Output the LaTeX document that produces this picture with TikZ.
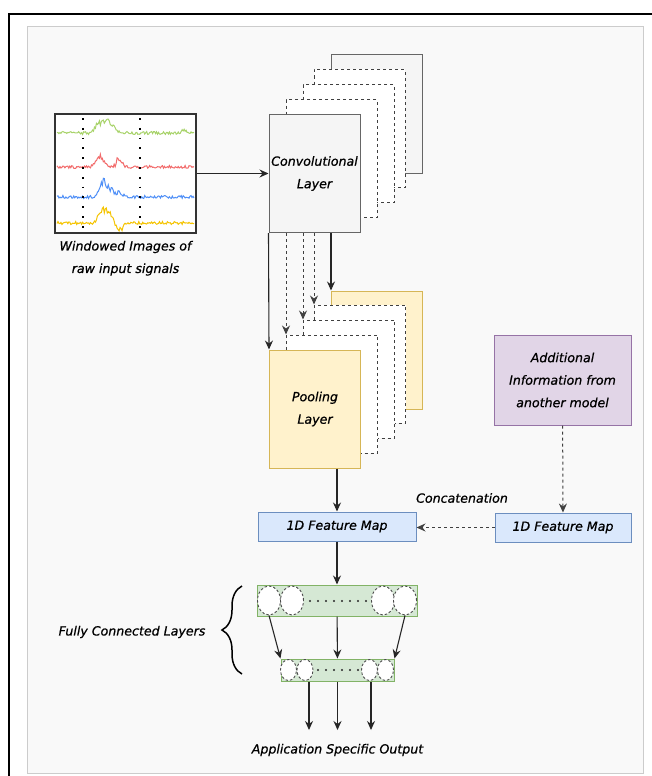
\documentclass[tikz,border=0pt]{standalone}
\usepackage{fontspec}
\setmainfont{DejaVu Sans}
\newfontfamily\diafont{DejaVu Sans}[ItalicFeatures={FakeBold=0.7}]
\usetikzlibrary{positioning,arrows.meta,calc,shapes.geometric,decorations.pathreplacing}
\definecolor{panelfill}{HTML}{F9F9F9}
\definecolor{panelline}{HTML}{CCCCCC}
\definecolor{convfill}{HTML}{F5F5F5}
\definecolor{convline}{HTML}{666666}
\definecolor{poolfill}{HTML}{FFF2CC}
\definecolor{poolline}{HTML}{D6B656}
\definecolor{fmfill}{HTML}{DAE8FC}
\definecolor{fmline}{HTML}{6C8EBF}
\definecolor{infofill}{HTML}{E1D5E7}
\definecolor{infoline}{HTML}{9673A6}
\definecolor{fcfill}{HTML}{D5E8D4}
\definecolor{fcline}{HTML}{82B366}
\definecolor{sgreen}{HTML}{A8D36A}
\definecolor{sred}{HTML}{F26B6B}
\definecolor{sblue}{HTML}{4F8FF7}
\definecolor{syellow}{HTML}{F5C400}
\tikzset{
  txt/.style={font=\diafont\fontsize{12.6}{22.5}\selectfont\itshape,align=center,inner sep=1pt},
  sigbox/.style={rectangle,draw=black!80,fill=white,line width=1.4pt,minimum width=141pt,minimum height=119pt,inner sep=0pt},
  lyr/.style={rectangle,line width=1pt,minimum width=91pt,minimum height=118pt,inner sep=0pt,
    txt},
  conv/.style={lyr,draw=convline,fill=convfill},
  pool/.style={lyr,draw=poolline,fill=poolfill},
  ghost/.style={lyr,draw=black!75,fill=white,dash pattern=on 3pt off 3pt},
  fmap/.style={rectangle,draw=fmline,fill=fmfill,line width=1pt,minimum width=158pt,minimum height=29pt,inner sep=0pt,txt},
  info/.style={rectangle,draw=infoline,fill=infofill,line width=1pt,minimum width=137pt,minimum height=90pt,inner sep=0pt,txt},
  fcbar/.style={rectangle,draw=fcline,fill=fcfill,line width=1pt,inner sep=0pt},
  neuron/.style={ellipse,draw=black!70,fill=white,dash pattern=on 2.5pt off 2pt,line width=0.9pt,inner sep=0pt},
  flow/.style={-{Stealth[length=9pt,width=8pt,inset=3pt]},line width=1.1pt,black!85},
  dflow/.style={flow,line width=1pt,black!75,dash pattern=on 3pt off 3pt},
  brc/.style={decorate,decoration={brace,amplitude=20pt},line width=1.5pt},
}

\begin{document}
\begin{tikzpicture}[x=1pt,y=-1pt]
  \useasboundingbox (0,0) rectangle (652,776);
  % frame and panel
  \fill[white] (0,0) rectangle (652,776);
  \draw[panelline,fill=panelfill,line width=1pt] (27,27) rectangle (643,773);
  \draw[line width=1.6pt] (652,14) -- (9,14) -- (9,776);
  % input signals
  \node[sigbox] (sig) at (125.5,173.5) {};
  \pgfmathsetseed{11}
  \draw[sgreen,line width=1pt] plot[domain=57:194,samples=140]
    (\x,{133-1.5*rand-(11+3*rand)*exp(-((\x-105)/11)^4)-3*exp(-((\x-184)/3)^2)});
  \draw[sred,line width=1pt] plot[domain=57:194,samples=140]
    (\x,{167-1.5*rand-(10+3*rand)*exp(-((\x-100)/5)^2)-(7+3*rand)*exp(-((\x-119)/4)^2)});
  \draw[sblue,line width=1pt] plot[domain=57:194,samples=140]
    (\x,{197-1.5*rand-(13+3*rand)*exp(-((\x-103)/5)^2)-(6+3*rand)*exp(-((\x-113)/9)^2)});
  \draw[syellow,line width=1pt] plot[domain=57:194,samples=140]
    (\x,{223-1.5*rand-(13+3*rand)*exp(-((\x-105)/8)^4)+(7+2*rand)*exp(-((\x-120)/4)^2)});
  \foreach \xd in {83,140}
    \draw[black,line width=2pt,dash pattern=on 1.8pt off 8pt] (\xd,118) -- (\xd,232);
  \node[txt,below=6pt of sig] (sigtxt) {Windowed Images of\\raw input signals};
  % convolutional stack
  \node[conv] (cbk) at (377,114) {};
  \foreach \i/\dx/\dy in {3/45/-45,2/34/-30,1/17/-15}
    \node[ghost] (cl\i) at (314.5+\dx,173.5+\dy) {};
  \node[conv] (conv) at (314.5,173.5) {Convolutional\\Layer};
  \draw[flow] (sig) -- (conv);
  % pooling stack
  \node[pool] (pbk) at (377,350) {};
  \foreach \i/\dx/\dy in {3/45/-45,2/34/-30,1/17/-15}
    \node[ghost] (pl\i) at (315+\dx,409+\dy) {};
  \node[pool] (pool) at (315,409) {Pooling\\Layer};
  \draw[flow] (conv.south west) -- (pool.north west);
  \foreach \i in {1,2,3}
    \draw[dflow] (conv.south -| pl\i.north west) -- (pl\i.north west);
  \draw[flow] (conv.south -| pbk.north west) -- (pbk.north west);
  % feature maps
  \node[fmap] (fm1) at (337,526.5) {1D Feature Map};
  \node[info] (info) at (562.5,380) {Additional\\Information from\\another model};
  \node[fmap,minimum width=136pt] (fm2) at (563,527.5) {1D Feature Map};
  \node[txt] (concat) at (462,498) {Concatenation};
  \draw[flow] (pool.south -| fm1.north) -- (fm1);
  \draw[dflow] (info) -- (fm2);
  \draw[dflow] (fm2.west) -- (fm1.east |- fm2.west);
  % fully connected layers
  \node[fcbar,minimum width=160pt,minimum height=31pt] (fc1) at (337,600.5) {};
  \foreach \i/\xn in {a/269,b/292,c/383,d/405}
    \node[neuron,minimum width=23pt,minimum height=29pt] (n1\i) at (\xn,600.5) {};
  \foreach \xd in {0,...,7}
    \fill[black!85] (310+8*\xd,601) circle (1.2);
  \node[fcbar,minimum width=113pt,minimum height=22pt] (fc2) at (337.5,670) {};
  \foreach \i/\xn in {a/288.5,b/305,c/369.5,d/385.5}
    \node[neuron,minimum width=16pt,minimum height=21pt] (n2\i) at (\xn,670) {};
  \foreach \xd in {0,...,5}
    \fill[black!85] (318+8*\xd,670) circle (1.2);
  \draw[flow] (n1a.south) -- (fc2.north west);
  \draw[flow] (fc1) -- (fc2);
  \draw[flow] (n1d.south) -- (fc2.north east);
  \draw[flow] (fm1) -- (fc1);
  \draw[brc] (242,674) -- (242,586);
  \node[txt] (fcl) at (132,632) {Fully Connected Layers};
  % output
  \foreach \i/\xo in {1/309,2/337.5,3/371}
    \coordinate (out\i) at (\xo,730);
  \foreach \i in {1,2,3}
    \draw[flow] (fc2.south -| out\i) -- (out\i);
  \node[txt] (outlbl) at (337.5,750) {Application Specific Output};
\end{tikzpicture}
\end{document}
